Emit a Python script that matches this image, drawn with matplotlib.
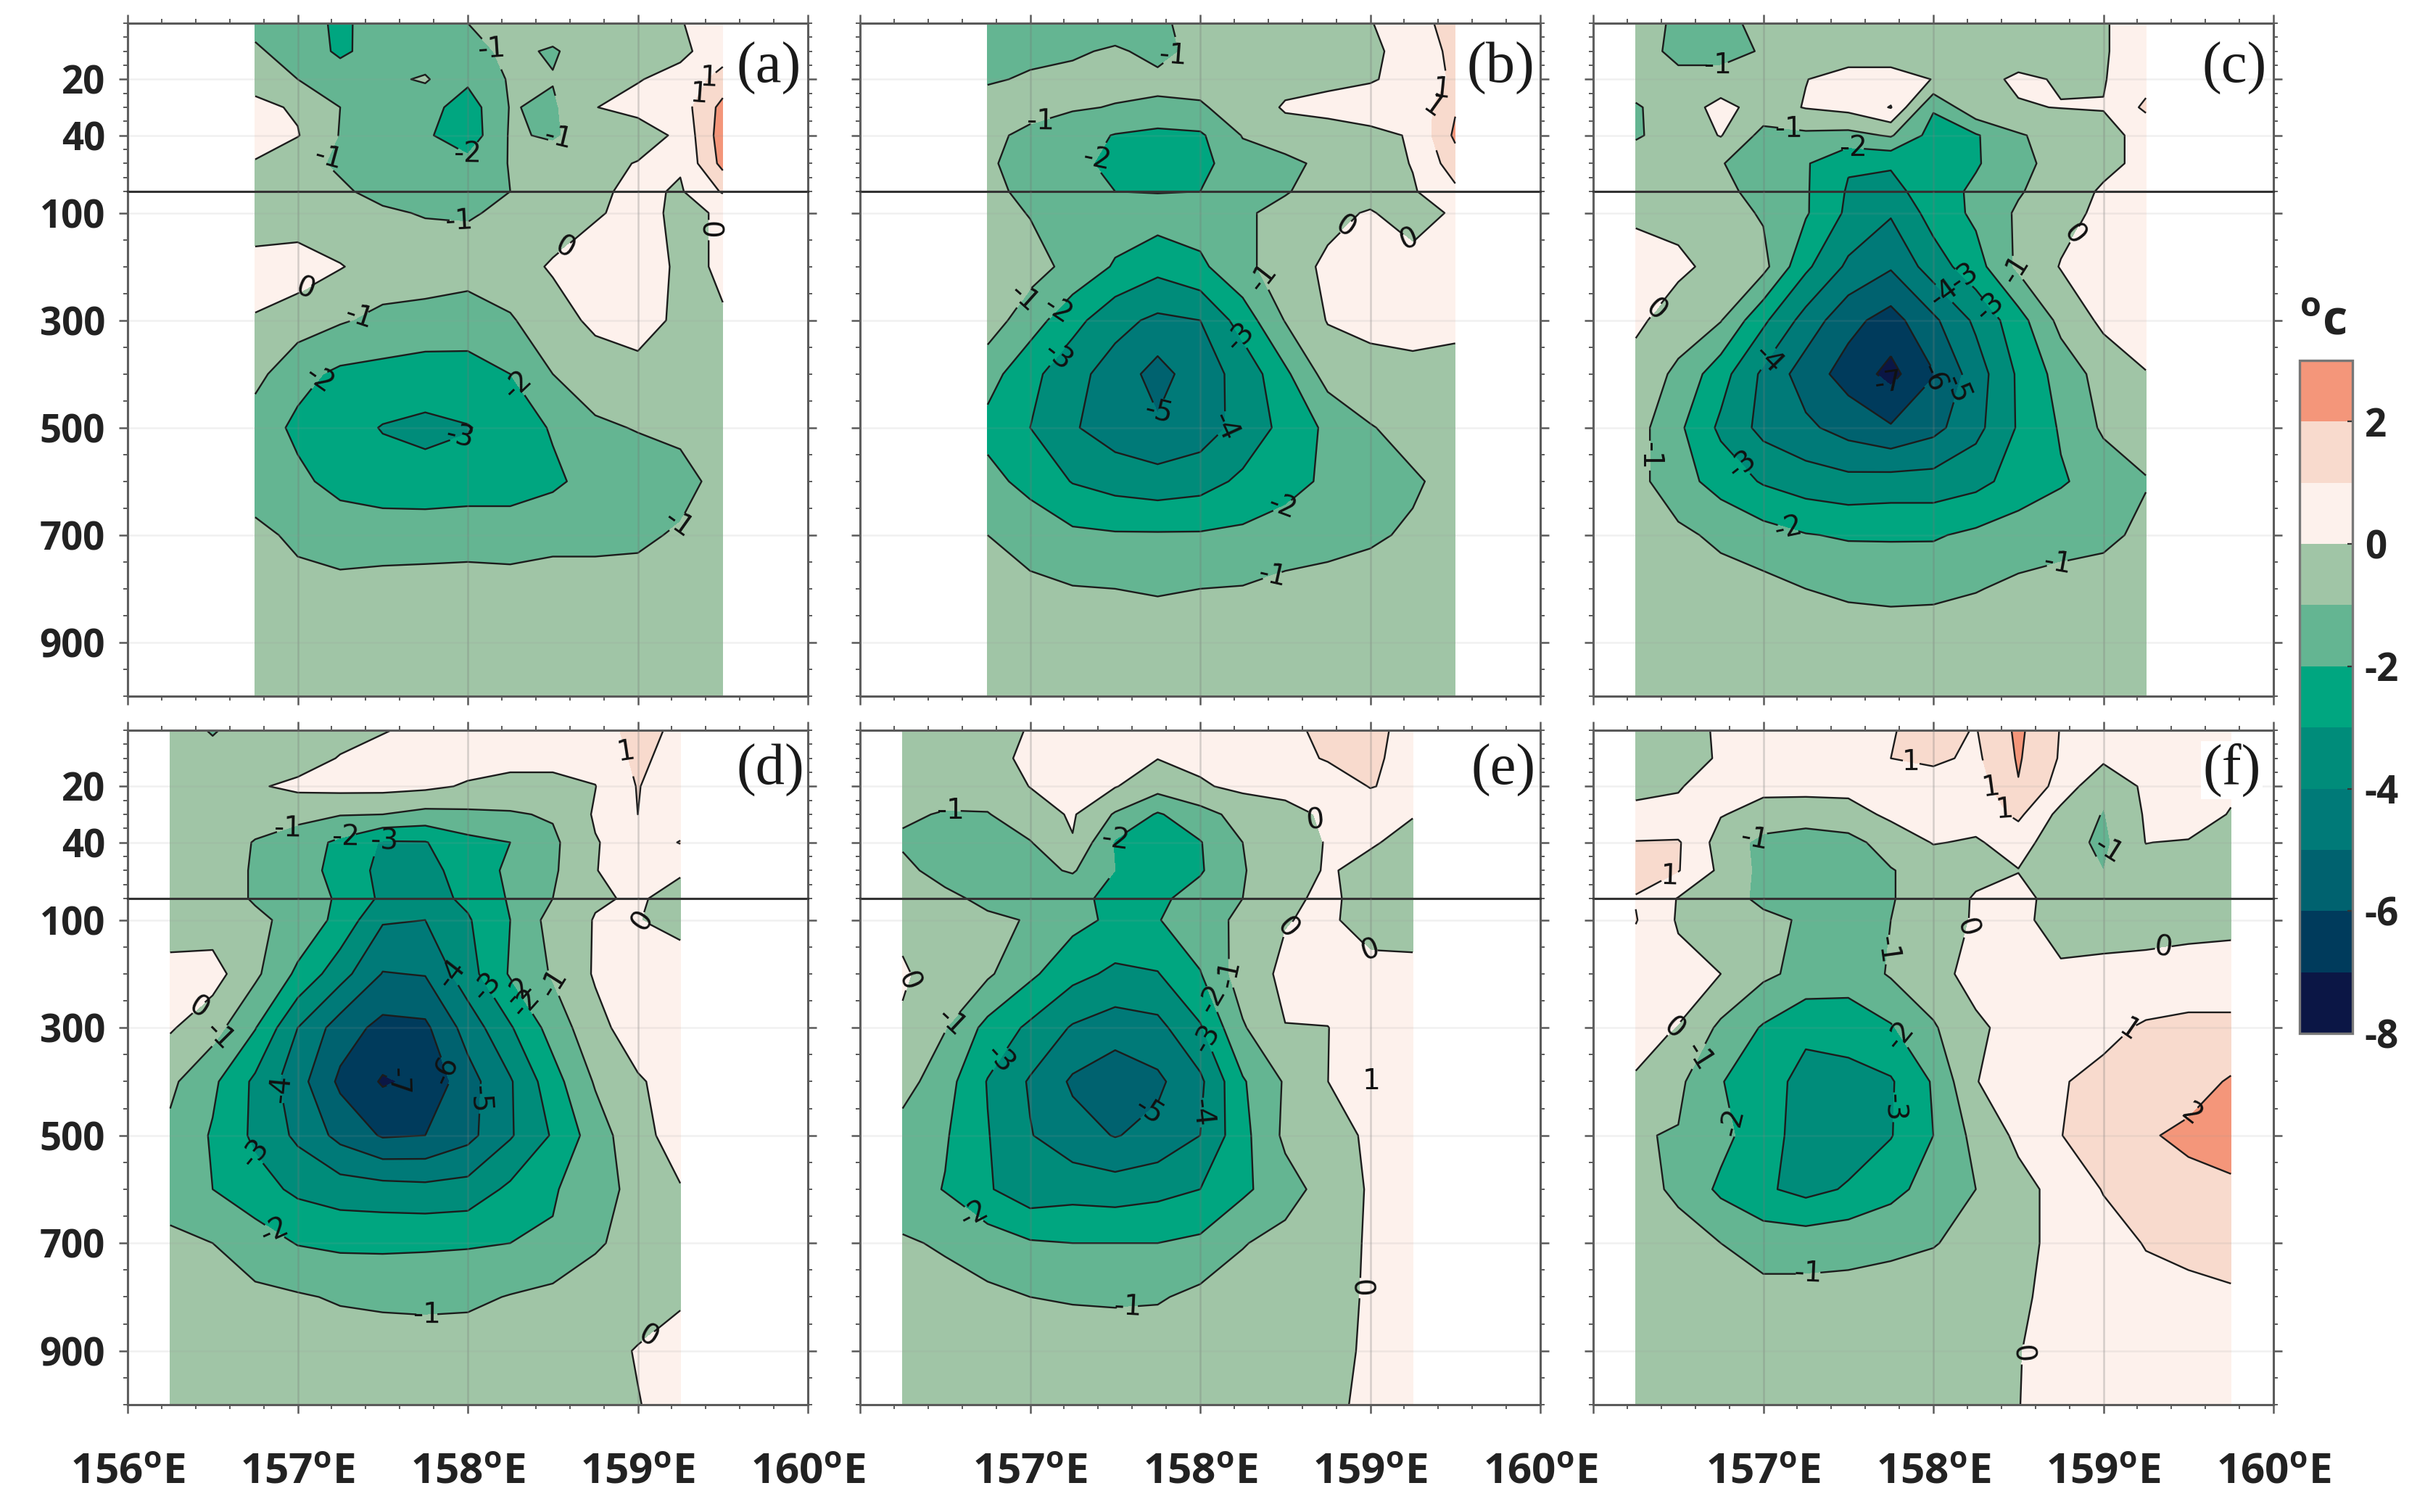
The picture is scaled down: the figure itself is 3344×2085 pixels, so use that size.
import numpy as np
import matplotlib
matplotlib.use("Agg")
import matplotlib.pyplot as plt
from matplotlib.ticker import FixedLocator

plt.rcParams['font.family'] = ['Open Sans', 'DejaVu Sans']
plt.rcParams['mathtext.fontset'] = 'custom'
plt.rcParams['mathtext.rm'] = 'Open Sans:bold'
plt.rcParams['mathtext.default'] = 'rm'

depth = [0, 10, 20, 30, 40, 50, 60, 100, 200, 300, 400, 500, 600, 700, 800, 900, 1000]
lon_ab = [156.75, 157, 157.25, 157.5, 157.75, 158, 158.25, 158.5, 158.75, 159, 159.25, 159.5]
lon_cde = [156.25, 156.5, 156.75, 157, 157.25, 157.5, 157.75, 158, 158.25, 158.5, 158.75, 159, 159.25]
lon_f = lon_cde + [159.5, 159.75]

levels = [-8, -7, -6, -5, -4, -3, -2, -1, 0, 1, 2, 3]
band_colors = ['#0b1645', '#003b5c', '#00626f', '#007a78', '#008c7a', '#00a680',
               '#64b592', '#a0c5a6', '#fdf1ec', '#f8dacd', '#f4967a']
cbar_ticks = [2, 0, -2, -4, -6, -8]
x_major = [156, 157, 158, 159, 160]
top_major = [20, 40]
bottom_major = [100, 300, 500, 700, 900]

temp_a = [
 [-1.2,-1.4,-2.25,-1.4,-1.3,-1.0,-0.7,-0.5,-0.4,-0.3,-0.05,0.5],
 [-0.9,-1.3,-2.2,-1.5,-1.5,-1.3,-0.8,-1.1,-0.5,-0.3,-0.2,0.5],
 [-0.3,-1.0,-1.4,-1.2,-0.9,-1.8,-0.9,-0.95,-0.4,-0.05,0.3,1.4],
 [0.2,-0.1,-1.0,-1.0,-1.6,-2.5,-0.95,-1.15,-0.02,0.3,0.5,2.3],
 [0.3,0.05,-1.05,-1.3,-1.85,-2.6,-0.9,-1.1,-0.6,-0.5,0.2,2.5],
 [-0.05,-0.8,-1.1,-1.4,-1.5,-1.7,-0.95,-0.6,-0.3,0.05,0.1,2.3],
 [-0.6,-0.7,-0.9,-1.2,-1.4,-1.4,-1.0,-0.5,-0.15,0.2,-0.1,1.1],
 [-0.5,-0.6,-0.7,-0.9,-1.05,-1.1,-0.8,-0.5,-0.1,0.3,-0.2,0.1],
 [0.3,0.5,0.05,-0.4,-0.55,-0.5,-0.4,0.1,0.5,0.6,-0.2,0.1],
 [-0.05,-0.5,-0.9,-1.25,-1.3,-1.6,-1.1,-0.4,0.2,0.4,-0.2,-0.05],
 [-0.7,-1.7,-2.2,-2.3,-2.5,-2.3,-2.0,-1.0,-0.5,-0.3,-0.3,-0.3],
 [-1.5,-2.2,-2.6,-3.05,-3.2,-3.05,-2.6,-1.9,-1.15,-0.95,-0.8,-0.5],
 [-1.5,-1.8,-2.3,-2.6,-2.7,-2.6,-2.6,-2.2,-1.6,-1.5,-1.3,-0.7],
 [-0.75,-1.2,-1.45,-1.4,-1.35,-1.3,-1.3,-1.2,-1.2,-1.15,-0.9,-0.6],
 [-0.6,-0.7,-0.75,-0.7,-0.7,-0.7,-0.75,-0.7,-0.7,-0.7,-0.6,-0.5],
 [-0.4,-0.4,-0.4,-0.4,-0.4,-0.4,-0.4,-0.4,-0.4,-0.4,-0.4,-0.4],
 [-0.3,-0.3,-0.3,-0.3,-0.3,-0.3,-0.3,-0.3,-0.3,-0.3,-0.3,-0.3],
]
temp_b = [
 [-1.5,-1.5,-1.4,-1.4,-1.1,-0.8,-0.6,-0.5,-0.3,-0.05,0.6,1.4],
 [-1.3,-1.2,-1.1,-0.9,-1.2,-0.8,-0.6,-0.5,-0.3,-0.15,0.3,1.3],
 [-1.1,-0.9,-0.8,-0.7,-0.85,-0.7,-0.5,-0.3,-0.15,-0.05,0.2,1.2],
 [-0.6,-0.7,-0.9,-1.05,-1.1,-1.1,-0.6,0.1,0.2,0.3,0.2,1.9],
 [-0.8,-1.2,-1.6,-2.05,-2.3,-2.15,-0.95,-0.4,-0.3,-0.15,0.05,2.2],
 [-0.9,-1.3,-1.8,-2.2,-2.4,-2.3,-1.4,-1.3,-0.7,-0.5,0.05,1.5],
 [-0.8,-1.2,-1.6,-2.0,-2.05,-2.0,-1.4,-1.05,-0.7,-0.5,-0.1,0.8],
 [-0.6,-1.05,-1.3,-1.5,-1.5,-1.5,-1.1,-0.8,-0.3,0.1,-0.6,0.2],
 [-0.3,-0.6,-1.3,-2.1,-2.7,-2.2,-1.25,-0.5,0.2,0.5,0.5,0.3],
 [-0.5,-1.55,-2.65,-3.7,-4.2,-4.0,-2.55,-0.95,0.05,0.3,0.4,0.3],
 [-1.6,-2.7,-3.7,-4.4,-5.4,-4.4,-3.7,-2.2,-0.6,-0.4,-0.3,-0.4],
 [-2.3,-3.0,-3.9,-4.5,-4.85,-4.5,-3.65,-2.7,-1.8,-1.05,-0.7,-0.6],
 [-1.7,-2.3,-3.05,-3.4,-3.6,-3.4,-2.8,-2.4,-1.8,-1.4,-1.1,-0.75],
 [-1.0,-1.4,-1.8,-1.9,-1.9,-1.9,-1.8,-1.5,-1.3,-1.1,-0.9,-0.7],
 [-0.8,-0.8,-0.95,-1.0,-1.1,-1.0,-0.95,-0.75,-0.7,-0.7,-0.6,-0.6],
 [-0.4,-0.4,-0.4,-0.4,-0.4,-0.4,-0.4,-0.4,-0.4,-0.4,-0.4,-0.4],
 [-0.3,-0.3,-0.3,-0.3,-0.3,-0.3,-0.3,-0.3,-0.3,-0.3,-0.3,-0.3],
]
temp_c = [
 [-0.5,-1.2,-1.3,-0.7,-0.5,-0.5,-0.5,-0.5,-0.5,-0.4,-0.3,-0.05,0.3],
 [-0.5,-1.3,-1.4,-0.9,-0.5,-0.4,-0.4,-0.4,-0.4,-0.3,-0.3,-0.05,0.3],
 [-0.5,-0.7,-0.6,-0.5,-0.02,0.3,0.3,-0.02,-0.2,0.1,-0.05,-0.05,0.6],
 [-1.1,-0.5,0.3,-0.4,0.05,0.3,1.05,-1.9,-0.2,-0.05,0.02,0.03,1.2],
 [-1.1,-0.6,0.05,-1.3,-1.2,-1.3,-0.9,-2.4,-2.1,-1.1,-0.6,-0.2,0.2],
 [-0.5,-0.5,-0.95,-1.5,-1.9,-2.9,-2.9,-2.6,-2.1,-1.3,-0.6,-0.2,0.2],
 [-0.4,-0.4,-0.7,-1.4,-1.9,-3.1,-3.3,-2.5,-1.8,-1.1,-0.4,0.1,0.2],
 [-0.2,-0.3,-0.6,-1.1,-1.9,-3.2,-3.9,-2.6,-1.8,-0.85,-0.3,0.2,0.3],
 [0.5,0.2,-0.3,-0.7,-2.8,-4.2,-4.9,-3.5,-2.4,-0.8,0.05,0.4,0.5],
 [0.2,-0.5,-0.95,-2.8,-4.4,-5.7,-6.4,-5.2,-3.8,-2.4,-0.7,0.2,0.4],
 [-0.4,-1.2,-2.6,-4.2,-5.5,-6.4,-7.3,-6.05,-4.5,-2.85,-1.6,-0.6,-0.03],
 [-0.6,-1.8,-3.2,-4.3,-4.8,-5.4,-5.9,-5.3,-4.3,-2.9,-1.9,-0.85,-0.6],
 [-0.7,-1.6,-2.4,-3.1,-3.5,-3.7,-3.6,-3.6,-3.3,-2.6,-2.1,-1.6,-1.05],
 [-0.5,-0.8,-1.2,-1.6,-1.95,-2.1,-2.1,-2.1,-1.8,-1.5,-1.3,-1.2,-0.8],
 [-0.4,-0.5,-0.6,-0.7,-1.0,-1.2,-1.3,-1.25,-1.05,-0.8,-0.7,-0.6,-0.5],
 [-0.3,-0.3,-0.3,-0.3,-0.4,-0.4,-0.4,-0.4,-0.4,-0.3,-0.3,-0.3,-0.3],
 [-0.25,-0.25,-0.25,-0.25,-0.25,-0.25,-0.25,-0.25,-0.25,-0.25,-0.25,-0.25,-0.25],
]
temp_d = [
 [-0.7,-1.05,-0.7,-0.5,-0.3,-0.05,0.2,0.3,0.4,0.5,0.6,1.3,0.8],
 [-0.6,-0.8,-0.6,-0.4,0.05,0.3,0.4,0.4,0.3,0.3,0.3,1.2,0.6],
 [-0.5,-0.5,-0.1,0.2,0.3,0.3,0.2,-0.1,-0.3,-0.3,-0.02,1.05,0.3],
 [-0.4,-0.4,-0.6,-0.7,-0.95,-1.0,-1.3,-1.2,-1.1,-0.9,0.1,1.0,0.3],
 [-0.3,-0.5,-1.05,-1.5,-2.2,-3.1,-3.05,-2.3,-2.0,-1.2,-0.05,0.4,1.05],
 [-0.3,-0.5,-1.1,-1.6,-2.3,-3.3,-3.3,-2.6,-1.8,-1.15,-0.02,0.3,0.1],
 [-0.4,-0.5,-1.1,-1.6,-2.1,-3.2,-3.4,-2.8,-1.9,-1.0,-0.1,0.1,-0.3],
 [-0.3,-0.5,-0.8,-1.3,-2.3,-3.9,-4.0,-3.1,-2.0,-0.6,0.05,0.03,-0.3],
 [0.2,0.4,-0.8,-2.2,-3.6,-5.05,-4.95,-3.4,-1.9,-0.9,0.1,0.4,0.5],
 [0.1,-0.6,-1.95,-4.0,-5.5,-6.3,-6.2,-4.6,-3.1,-1.6,-0.3,0.5,0.6],
 [-0.8,-1.8,-3.2,-4.6,-6.2,-7.1,-6.8,-5.4,-4.1,-2.4,-0.9,-0.1,0.4],
 [-1.2,-2.1,-3.2,-4.2,-5.3,-6.1,-6.0,-5.3,-4.1,-2.9,-1.5,-0.3,0.4],
 [-1.4,-2.0,-2.6,-3.2,-3.5,-3.6,-3.7,-3.6,-2.8,-2.1,-1.4,-0.7,-0.05],
 [-0.8,-1.0,-1.5,-2.05,-2.2,-2.2,-2.15,-2.1,-2.0,-1.9,-1.1,-0.7,-0.5],
 [-0.6,-0.7,-0.8,-0.9,-1.1,-1.2,-1.25,-1.2,-0.95,-0.7,-0.6,-0.4,-0.1],
 [-0.5,-0.5,-0.5,-0.5,-0.5,-0.5,-0.5,-0.5,-0.5,-0.4,-0.3,0.05,0.3],
 [-0.3,-0.3,-0.3,-0.3,-0.3,-0.3,-0.3,-0.3,-0.3,-0.3,-0.2,-0.03,0.3],
]
temp_e = [
 [-0.7,-0.7,-0.6,0.1,0.2,0.3,0.4,0.4,0.5,0.7,1.3,1.4,0.5],
 [-0.7,-0.6,-0.3,0.2,0.4,0.3,0.02,0.2,0.4,0.6,1.1,1.2,0.6],
 [-0.8,-0.7,-0.5,0.02,0.2,0.05,-0.6,-0.1,0.2,0.1,0.3,1.05,0.7],
 [-0.9,-1.05,-1.05,-0.4,0.1,-1.1,-2.1,-1.4,-0.6,-0.1,0.05,0.3,0.05],
 [-1.1,-1.3,-1.3,-1.05,-0.05,-2.1,-2.5,-2.05,-1.0,-0.4,0.05,0.1,-0.3],
 [-0.8,-1.3,-1.4,-1.3,-0.9,-2.0,-2.5,-2.1,-1.05,-0.5,0.1,-0.3,-0.6],
 [-0.6,-0.8,-1.2,-1.4,-1.8,-2.2,-2.2,-1.6,-1.0,-0.2,0.2,-0.4,-0.7],
 [-0.2,-0.5,-0.85,-1.05,-1.7,-2.2,-2.05,-1.4,-0.8,-0.05,0.2,-0.5,-0.6],
 [0.1,-0.4,-0.85,-1.8,-2.7,-3.2,-3.05,-2.05,-0.5,0.2,0.3,0.4,0.4],
 [-0.1,-0.95,-2.3,-3.2,-4.1,-4.5,-4.3,-3.1,-1.1,-0.02,-0.01,0.3,0.3],
 [-0.6,-1.6,-3.05,-4.1,-5.15,-5.7,-5.2,-4.2,-2.1,-0.9,-0.01,1.02,0.3],
 [-1.4,-1.9,-2.95,-3.95,-4.6,-5.05,-4.7,-4.0,-2.3,-0.8,-0.5,0.2,0.1],
 [-1.5,-2.05,-2.9,-3.6,-3.4,-3.5,-3.3,-3.0,-2.2,-1.4,-0.6,0.1,0.3],
 [-0.9,-1.1,-1.5,-1.9,-2.0,-2.0,-2.0,-1.8,-1.05,-0.7,-0.4,0.1,0.3],
 [-0.6,-0.7,-0.8,-1.0,-1.1,-1.15,-1.1,-0.75,-0.6,-0.5,-0.3,0.1,0.3],
 [-0.4,-0.4,-0.4,-0.4,-0.4,-0.4,-0.4,-0.4,-0.4,-0.4,-0.2,0.1,0.2],
 [-0.3,-0.3,-0.3,-0.3,-0.3,-0.3,-0.3,-0.3,-0.3,-0.3,-0.1,0.1,0.2],
]
temp_f = [
 [-0.5,-0.6,0.2,0.2,0.2,0.3,0.95,1.3,0.95,2.2,0.95,0.3,0.3,0.3,0.3],
 [-0.6,-0.4,0.1,0.2,0.3,0.4,1.0,1.2,0.8,2.1,0.9,0.2,0.3,0.3,0.3],
 [-0.1,-0.03,0.2,0.2,0.3,0.3,0.4,0.5,0.5,1.95,0.6,-0.8,0.2,0.8,0.3],
 [0.1,0.1,0.05,-0.3,-0.5,-0.4,0.2,0.3,0.4,1.2,-0.3,-1.05,0.1,0.8,-0.1],
 [1.05,1.1,-0.4,-1.3,-1.5,-1.3,-0.6,0.05,-0.1,0.4,-0.6,-1.2,0.02,-0.1,-0.3],
 [1.3,1.05,-0.2,-1.3,-1.5,-1.4,-1.05,-0.6,-0.3,-0.03,-0.7,-1.0,-0.4,-0.4,-0.4],
 [0.95,-0.05,-0.6,-1.2,-1.3,-1.2,-1.05,-0.6,0.1,0.3,-0.4,-0.6,-0.5,-0.4,-0.4],
 [1.05,-0.1,-0.6,-0.8,-1.1,-1.3,-1.0,-0.5,0.1,0.3,-0.5,-0.5,-0.5,-0.4,-0.3],
 [0.4,0.3,0.0,-0.8,-1.3,-1.6,-0.9,-0.4,0.4,0.6,0.2,0.3,0.4,0.5,0.5],
 [0.2,-0.02,-1.2,-2.1,-2.8,-2.5,-2.1,-1.1,-0.2,0.4,0.6,0.8,1.1,1.2,1.2],
 [-0.05,-0.8,-1.95,-2.6,-3.3,-3.4,-3.1,-1.9,-0.02,0.3,0.95,1.2,1.4,1.6,2.1],
 [-0.95,-1.05,-1.7,-2.6,-3.4,-3.5,-3.05,-2.0,-0.7,0.2,0.98,1.5,1.9,2.2,2.5],
 [-0.6,-1.2,-2.2,-2.85,-3.3,-2.9,-2.3,-1.6,-1.0,-0.3,0.3,1.05,1.6,1.7,1.8],
 [-0.5,-0.6,-1.0,-1.4,-1.4,-1.3,-1.2,-1.05,-0.7,-0.2,0.2,0.6,1.05,1.2,1.3],
 [-0.5,-0.5,-0.6,-0.7,-0.7,-0.7,-0.6,-0.5,-0.4,-0.1,0.2,0.5,0.7,0.8,0.9],
 [-0.4,-0.4,-0.4,-0.4,-0.4,-0.4,-0.4,-0.4,-0.3,-0.02,0.2,0.3,0.4,0.4,0.4],
 [-0.3,-0.3,-0.3,-0.3,-0.3,-0.3,-0.3,-0.3,-0.2,-0.01,0.2,0.3,0.3,0.3,0.3],
]

top_labels_a = [(157.18,38),(159.36,21),(159.42,34),(158.0,43),(158.14,21),(158.53,41)]
bot_labels_a = [(157.95,111),(158.56,157),(157.06,262),(157.36,292),(157.14,418),(158.29,422),(157.96,535),(159.24,682),(159.39,132)]
top_labels_b = [(157.84,17),(157.06,34),(157.39,40),(159.36,17),(159.42,31)]
bot_labels_b = [(158.83,107),(159.21,166),(158.38,216),(156.98,266),(157.17,287),(157.18,380),(158.22,338),(157.79,481),(158.17,497),(158.49,657),(158.42,766)]
top_labels_c = [(156.73,13),(157.15,36),(157.53,43)]
bot_labels_c = [(158.83,140),(158.46,216),(158.16,233),(158.05,258),(158.36,262),(156.38,288),(157.02,368),(157.74,413),(158.02,421),(158.18,434),(156.38,552),(156.86,577),(157.15,678),(158.72,732)]
top_labels_d = [(156.94,33),(157.28,38),(157.51,40),(158.93,19)]
bot_labels_d = [(159.03,100),(158.60,191),(158.37,205),(158.09,234),(157.90,201),(158.29,267),(156.43,271),(156.57,328),(157.87,380),(157.59,403),(158.04,431),(156.91,412),(156.72,544),(156.88,662),(157.76,836),(159.06,874)]
top_labels_e = [(156.53,27),(157.50,36),(158.68,20)]
bot_labels_e = [(158.53,125),(159.0,158),(158.13,205),(156.34,224),(158.03,257),(156.53,285),(158.03,323),(156.84,365),(159.15,408),(158.02,458),(157.74,481),(156.69,629),(157.57,800),(158.88,782)]
top_labels_f = [(157.87,11),(158.42,15),(158.34,24),(156.95,38),(159.03,43),(156.45,52)]
bot_labels_f = [(158.21,116),(157.62,149),(159.35,144),(157.80,316),(156.51,316),(156.64,358),(159.14,300),(157.79,448),(159.52,462),(156.74,483),(157.26,737),(158.49,906)]

W, H = 3344, 2085
fig = plt.figure(figsize=(W / 200, H / 200), dpi=200, facecolor='white')

def box(x0, x1, y0, y1):
    return [x0 / W, 1 - y1 / H, (x1 - x0) / W, (y1 - y0) / H]

panels = [
 ('(a)', lon_ab, temp_a, top_labels_a, bot_labels_a, 176, 32, 264, 960, 1105, 94, True, False),
 ('(b)', lon_ab, temp_b, top_labels_b, bot_labels_b, 1186, 32, 264, 960, 2116, 94, False, False),
 ('(c)', lon_cde, temp_c, top_labels_c, bot_labels_c, 2197, 32, 264, 960, 3126, 94, False, False),
 ('(d)', lon_cde, temp_d, top_labels_d, bot_labels_d, 176, 1007, 1239, 1937, 1109, 1062, True, True),
 ('(e)', lon_cde, temp_e, top_labels_e, bot_labels_e, 1186, 1007, 1239, 1937, 2118, 1062, False, True),
 ('(f)', lon_f, temp_f, top_labels_f, bot_labels_f, 2197, 1007, 1239, 1937, 3118, 1062, False, True),
]
PW = 938
GREY = '#5a5a5a'
LAB = dict(fontsize=19, fontweight='bold', color='#222222')
last = None

for name, lons, vals, tlabs, blabs, x0, y0, ybr, y1, lx, ly, left, xlab in panels:
    vals = np.array(vals, dtype=float)
    atop = fig.add_axes(box(x0, x0 + PW, y0, ybr))
    abot = fig.add_axes(box(x0, x0 + PW, ybr, y1))
    for ax, ylim, maj, mn, labs in (
        (atop, (60, 0), top_major, np.arange(0, 61, 5), tlabs),
        (abot, (1000, 60), bottom_major, np.arange(100, 1001, 50), blabs),
    ):
        last = ax.contourf(lons, depth, vals, levels=levels, colors=band_colors)
        cl = ax.contour(lons, depth, vals, levels=levels[1:-1], colors='#1c1c1c',
                        linewidths=0.85, linestyles='solid')
        ax.clabel(cl, fmt='%d', fontsize=14, inline=True, inline_spacing=2, manual=labs)
        for t in cl.labelTexts:
            t.set_family('DejaVu Sans')
            t.set_color('#111111')
        ax.set_xlim(156, 160)
        ax.set_ylim(*ylim)
        ax.xaxis.set_major_locator(FixedLocator(x_major))
        ax.xaxis.set_minor_locator(FixedLocator(np.arange(156, 160.01, 0.2)))
        ax.yaxis.set_major_locator(FixedLocator(maj))
        ax.yaxis.set_minor_locator(FixedLocator(mn))
        ax.tick_params(which='major', direction='out', length=4.2, width=0.9, color=GREY,
                       left=True, right=True, top=False, bottom=False,
                       labelleft=False, labelbottom=False)
        ax.tick_params(which='minor', direction='out', length=2.0, width=0.7, color=GREY,
                       left=True, right=True, top=False, bottom=False)
        ax.set_axisbelow(False)
        ax.grid(True, axis='x', which='major', color='#777777', alpha=0.3, linewidth=0.9)
        ax.grid(True, axis='y', which='major', color='#999999', alpha=0.14, linewidth=0.9)
        for s in ax.spines.values():
            s.set_color(GREY)
            s.set_linewidth(1.1)
    atop.tick_params(axis='x', which='both', top=True)
    abot.tick_params(axis='x', which='both', bottom=True)
    atop.spines['bottom'].set_color('#333333')
    abot.spines['top'].set_color('#333333')
    if left:
        atop.set_yticklabels([str(v) for v in top_major], **LAB)
        abot.set_yticklabels([str(v) for v in bottom_major], **LAB)
        atop.tick_params(axis='y', which='major', labelleft=True, pad=7)
        abot.tick_params(axis='y', which='major', labelleft=True, pad=7)
    if xlab:
        tick_txt = [(r'%d$^{\mathrm{o}}$E' % v) if (left or v != 156) else '' for v in x_major]
        abot.set_xticklabels(tick_txt, fontsize=21, fontweight='bold', color='#222222')
        abot.tick_params(axis='x', which='major', labelbottom=True, pad=19)
    bbox = dict(facecolor='white', edgecolor='none', pad=1) if name == '(f)' else None
    fig.text(lx / W, 1 - ly / H, name, family='Liberation Serif', fontsize=29, ha='right',
             va='center', color='#1a1a1a', bbox=bbox, zorder=10)

cax = fig.add_axes(box(3171, 3244, 497, 1425))
cb = fig.colorbar(last, cax=cax, ticks=cbar_ticks)
cb.ax.set_yticklabels([str(v) for v in cbar_ticks], **LAB)
cb.ax.tick_params(direction='in', length=2.5, width=0.8, color='#333333', pad=6)
cb.ax.minorticks_off()
cb.outline.set_edgecolor('#777777')
cb.outline.set_linewidth(1.2)
fig.text(3204 / W, 1 - 444 / H, r'$^{\mathrm{o}}$c', ha='center', va='center',
         fontsize=24, fontweight='bold', color='#222222')

fig.savefig('out.png', dpi=200, facecolor='white')
